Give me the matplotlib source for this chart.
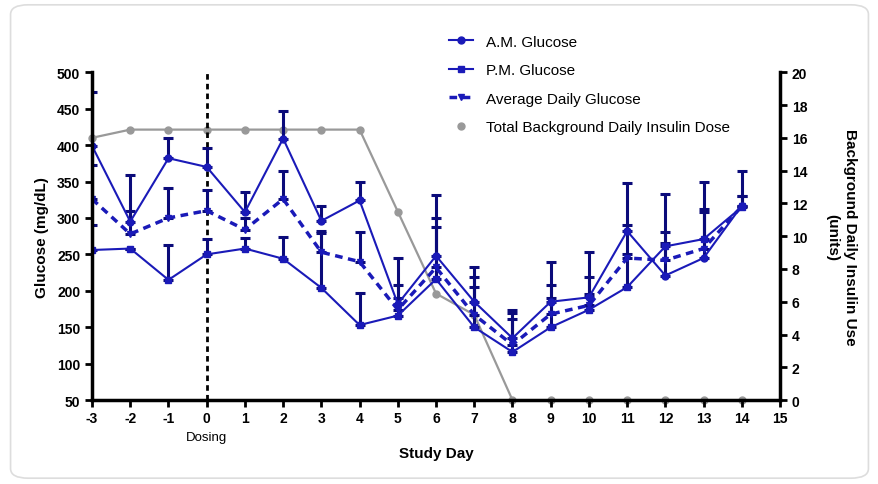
import numpy as np
import matplotlib
matplotlib.use("Agg")
import matplotlib.pyplot as plt
from matplotlib.patches import FancyBboxPatch

plt.rcParams['font.family'] = ['Liberation Sans', 'DejaVu Sans']
plt.rcParams['axes.unicode_minus'] = False

days = [-3, -2, -1, 0, 1, 2, 3, 4, 5, 6, 7, 8, 9, 10, 11, 12, 13, 14]

am_glucose = [399, 295, 382, 370, 308, 409, 296, 324, 182, 248, 185, 135, 185, 191, 282, 221, 245, 317]
am_upper = [473, 359, 410, 396, 335, 447, 317, 349, 245, 331, 233, 173, 239, 253, 348, 266, 308, 365]

pm_glucose = [256, 258, 215, 250, 258, 244, 204, 153, 166, 216, 150, 116, 150, 174, 205, 261, 271, 315]
pm_upper = [291, 258, 263, 271, 272, 274, 280, 197, 190, 287, 205, 161, 190, 195, 250, 333, 350, 330]

avg_glucose = [326, 278, 300, 310, 284, 326, 253, 240, 174, 232, 167, 126, 168, 180, 245, 242, 258, 316]
avg_upper = [373, 309, 341, 339, 300, 365, 282, 281, 208, 300, 219, 169, 208, 219, 291, 281, 312, 330]

insulin_dose = [16, 16.5, 16.5, 16.5, 16.5, 16.5, 16.5, 16.5, 11.5, 6.5, 5.2, 0, 0, 0, 0, 0, 0, 0]

blue = '#1a1ab8'
navy = '#0b0b7a'
grey = '#999999'


def err(vals, upper):
    up = np.maximum(np.array(upper) - np.array(vals), 0)
    return [np.zeros(len(vals)), up]


fig = plt.figure(figsize=(8.79, 4.85), dpi=100)
fig.patches.append(FancyBboxPatch((0.012, 0.012), 0.976, 0.976,
                                  boxstyle='round,pad=0,rounding_size=0.02',
                                  transform=fig.transFigure, fill=False,
                                  edgecolor='#dddddd', linewidth=1.2))

ax = fig.add_axes([0.1047, 0.173, 0.7827, 0.676])
ax2 = ax.twinx()
ax.set_zorder(ax2.get_zorder() + 1)
ax.patch.set_visible(False)

# insulin dose on right axis
ins, = ax2.plot(days, insulin_dose, '-o', color=grey, lw=1.6, ms=5,
                clip_on=False, label='Total Background Daily Insulin Dose')
ax2.set_ylim(0, 20)
ax2.set_yticks(range(0, 21, 2))

ax.errorbar(days, am_glucose, yerr=err(am_glucose, am_upper), fmt='none',
            ecolor=navy, elinewidth=2.2, capsize=3.5, capthick=2.2)
ax.errorbar(days, pm_glucose, yerr=err(pm_glucose, pm_upper), fmt='none',
            ecolor=navy, elinewidth=2.2, capsize=3.5, capthick=2.2)
ax.errorbar(days, avg_glucose, yerr=err(avg_glucose, avg_upper), fmt='none',
            ecolor=navy, elinewidth=2.2, capsize=3.5, capthick=2.2)

am, = ax.plot(days, am_glucose, '-o', color=blue, lw=1.5, ms=5, label='A.M. Glucose')
pm, = ax.plot(days, pm_glucose, '-s', color=blue, lw=1.5, ms=5, label='P.M. Glucose')
av, = ax.plot(days, avg_glucose, '--v', color=blue, lw=2.5, ms=5,
              dashes=(2.2, 1.6), label='Average Daily Glucose')

ax.axvline(0, color='black', lw=2, ls=(0, (2, 1.5)), zorder=1)

ax.set_xlim(-3, 15)
ax.set_ylim(50, 500)
ax.set_xticks(range(-3, 16))
ax.set_yticks(range(50, 501, 50))

for a in (ax, ax2):
    a.spines['top'].set_visible(False)
    a.tick_params(width=2, length=5, labelsize=10)
    for lab in a.get_xticklabels() + a.get_yticklabels():
        lab.set_fontweight('bold')
ax.spines['right'].set_visible(False)
ax2.spines['left'].set_visible(False)
ax2.spines['bottom'].set_visible(False)
ax.spines['left'].set_linewidth(2.5)
ax.spines['bottom'].set_linewidth(2.5)
ax2.spines['right'].set_linewidth(2.5)
ax.tick_params(axis='x', pad=3)

ax.set_xlabel('Study Day', fontsize=11, fontweight='bold', labelpad=15)
ax.set_ylabel('Glucose (mg/dL)', fontsize=11, fontweight='bold', labelpad=6)
ax2.set_ylabel('Background Daily Insulin Use\n(units)', fontsize=11,
               fontweight='bold', rotation=-90, labelpad=36, linespacing=1.4)

ax.text(0, -0.095, 'Dosing', transform=ax.get_xaxis_transform(),
        ha='center', va='top', fontsize=9.5)

ins_leg, = ax.plot([], [], 'o', color=grey, ms=5)
ax.legend([am, pm, av, ins_leg],
          ['A.M. Glucose', 'P.M. Glucose', 'Average Daily Glucose',
           'Total Background Daily Insulin Dose'],
          loc='upper left', bbox_to_anchor=(0.495, 0.955),
          bbox_transform=fig.transFigure, frameon=False, fontsize=11,
          handlelength=1.6, labelspacing=0.95, handletextpad=0.8)

fig.savefig('out.png', dpi=100)
